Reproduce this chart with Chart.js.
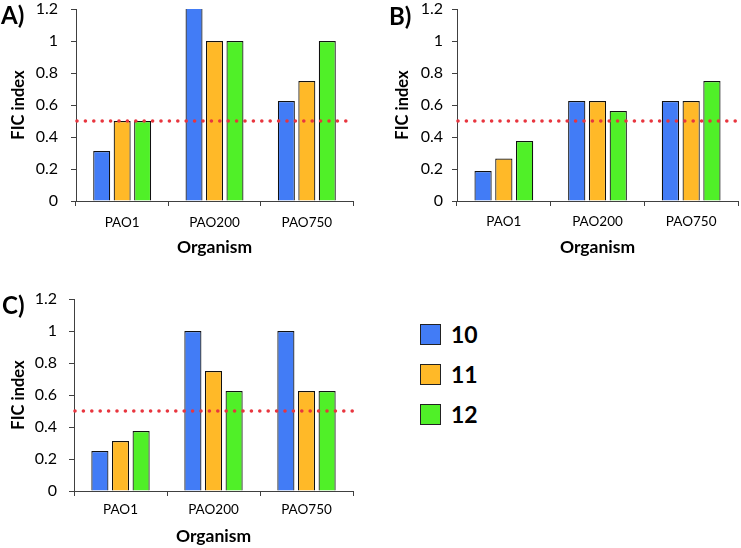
<!DOCTYPE html>
<html><head><meta charset="utf-8">
<script src="https://cdn.jsdelivr.net/npm/chart.js@4"></script>
<style>
html,body{margin:0;padding:0;background:#fff;}
body{width:741px;height:548px;position:relative;overflow:hidden;font-family:Lato,sans-serif;}
canvas{position:absolute;}
#legend{position:absolute;left:420px;top:324px;width:100px;height:120px;}
.item{position:absolute;left:0;height:21px;}
.sw{position:absolute;left:0;top:0;width:19px;height:19px;border:1px solid #222;}
.lb{position:absolute;left:31px;top:-3px;font-weight:bold;font-size:23px;line-height:27px;color:#000;}
</style></head><body>
<canvas id="cA" width="370" height="270" style="left:0;top:0"></canvas>
<canvas id="cB" width="371" height="270" style="left:370px;top:0"></canvas>
<canvas id="cC" width="370" height="278" style="left:0;top:270px"></canvas>
<div id="legend"></div>
<script>
// ---- data ----
const categories = ['PAO1', 'PAO200', 'PAO750'];
const seriesNames = ['10', '11', '12'];
const panelA_10 = [0.3125, 1.25, 0.625];
const panelA_11 = [0.5, 1, 0.75];
const panelA_12 = [0.5, 1, 1];
const panelB_10 = [0.1875, 0.625, 0.625];
const panelB_11 = [0.265, 0.625, 0.625];
const panelB_12 = [0.375, 0.5625, 0.75];
const panelC_10 = [0.25, 1, 1];
const panelC_11 = [0.3125, 0.75, 0.625];
const panelC_12 = [0.375, 0.625, 0.625];
const yTickLabels = ['0', '0.2', '0.4', '0.6', '0.8', '1', '1.2'];
const threshold = 0.5;
const panelLabels = ['A)', 'B)', 'C)'];
const xTitle = 'Organism';
const yTitle = 'FIC index';

// ---- styles ----
const seriesColors = ['#427cf6', '#ffb928', '#50f028'];
const axisColor = '#404040';
Chart.defaults.font.family = 'Lato, sans-serif';
Chart.defaults.color = '#000';

const extras = {
  id: 'extras',
  afterDatasetsDraw(chart, args, opts) {
    const {ctx, chartArea: a, scales: {y}} = chart;
    const py = y.getPixelForValue(threshold);
    ctx.save();
    ctx.strokeStyle = '#e8353e';
    ctx.lineWidth = 3.6;
    ctx.lineCap = 'round';
    ctx.setLineDash([0, 8.4]);
    ctx.beginPath();
    ctx.moveTo(a.left + 1, py);
    ctx.lineTo(a.right, py);
    ctx.stroke();
    ctx.restore();
  },
  afterDraw(chart, args, opts) {
    const ctx = chart.ctx;
    ctx.save();
    ctx.font = 'bold 24px Lato, sans-serif';
    ctx.fillStyle = '#000';
    ctx.textBaseline = 'alphabetic';
    ctx.fillText(opts.label, opts.lx, opts.ly);
    ctx.restore();
  }
};

function makePanel(id, label, d10, d11, d12, P) {
  const values = [d10, d11, d12];
  new Chart(document.getElementById(id), {
    type: 'bar',
    data: {
      labels: categories,
      datasets: seriesNames.map((n, i) => ({
        label: n,
        data: values[i],
        backgroundColor: seriesColors[i],
        borderColor: '#111',
        borderWidth: 1.2,
        barPercentage: 0.83,
        categoryPercentage: 0.665,
        clip: 0
      }))
    },
    options: {
      responsive: false,
      animation: false,
      devicePixelRatio: 1,
      layout: {padding: {left: 0, top: P.top, right: P.padRight, bottom: 0}},
      plugins: {
        legend: {display: false},
        tooltip: {enabled: false},
        extras: {label: label, lx: P.lx, ly: P.ly}
      },
      scales: {
        x: {
          grid: {display: true, drawOnChartArea: false, drawTicks: true, tickLength: 5, color: axisColor, offset: true},
          border: {display: true, color: axisColor, width: 1},
          ticks: {font: {size: 13.5}, color: '#000', padding: P.xTickPad, maxRotation: 0},
          title: {display: true, text: xTitle, font: {size: 17.5, weight: 'bold'}, color: '#000', padding: {top: 0, bottom: P.xTitlePad}},
          afterFit(s) { s.height = P.xAxisH; s.paddingLeft = 0; s.paddingRight = 0; }
        },
        y: {
          min: 0, max: 1.2,
          ticks: {stepSize: 0.2, font: {size: 16}, color: '#000', padding: P.yTickPad,
                  callback: (v, i) => yTickLabels[i]},
          grid: {display: true, drawOnChartArea: false, drawTicks: true, tickLength: 5, color: axisColor},
          border: {display: true, color: axisColor, width: 1},
          title: {display: true, text: yTitle, font: {size: 16.5, weight: 'bold'}, color: '#000', padding: {top: P.yTitlePad, bottom: 0}},
          afterFit(s) { s.width = P.yAxisW; s.paddingTop = 0; s.paddingBottom = 0; }
        }
      }
    },
    plugins: [extras]
  });
}

makePanel('cA', panelLabels[0], panelA_10, panelA_11, panelA_12,
  {top: 9, padRight: 17, xAxisH: 69, yAxisW: 76, xTickPad: 9, xTitlePad: 12, yTickPad: 13, yTitlePad: 9, lx: 1, ly: 24});
makePanel('cB', panelLabels[1], panelB_10, panelB_11, panelB_12,
  {top: 9, padRight: 3, xAxisH: 69, yAxisW: 87, xTickPad: 8, xTitlePad: 12, yTickPad: 9, yTitlePad: 23, lx: 19, ly: 25});
makePanel('cC', panelLabels[2], panelC_10, panelC_11, panelC_12,
  {top: 29, padRight: 17, xAxisH: 57, yAxisW: 74, xTickPad: 6, xTitlePad: 1, yTickPad: 12, yTitlePad: 9, lx: 2, ly: 44});

// legend built from the series
const leg = document.getElementById('legend');
seriesNames.forEach((n, i) => {
  const it = document.createElement('div');
  it.className = 'item';
  it.style.top = (i * 40) + 'px';
  const sw = document.createElement('div');
  sw.className = 'sw';
  sw.style.background = seriesColors[i];
  const lb = document.createElement('div');
  lb.className = 'lb';
  lb.textContent = n;
  it.appendChild(sw); it.appendChild(lb);
  leg.appendChild(it);
});
</script>
</body></html>
